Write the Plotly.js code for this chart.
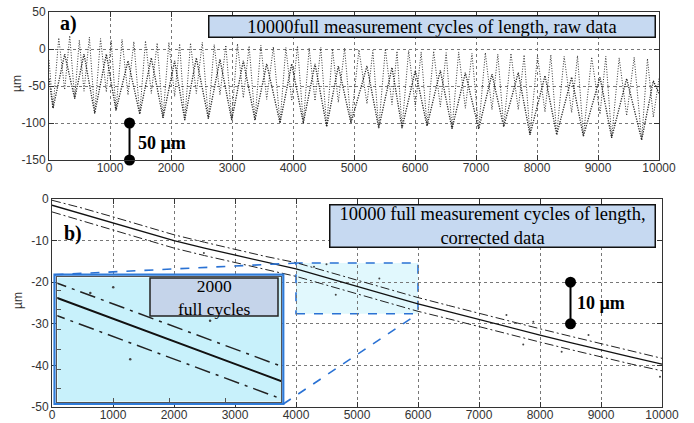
<!DOCTYPE html>
<html><head><meta charset="utf-8">
<script src="https://cdn.plot.ly/plotly-3.0.1.min.js"></script>
<style>html,body{margin:0;padding:0;background:#fff}#chart{width:694px;height:423px}</style>
</head><body><div id="chart"></div>
<script>
// ---- panel a) raw data: dense triangle wave and thin spike wave (vertices read from picture)
const rawBoldX = [0, 66, 257, 421, 574, 749, 940, 1098, 1295, 1487, 1677, 1869, 2060, 2225, 2415, 2612, 2803, 2995, 3186, 3377, 3569, 3787, 3979, 4169, 4361, 4552, 4743, 4950, 5213, 5405, 5623, 5787, 6005, 6197, 6415, 6607, 6825, 7044, 7262, 7454, 7693, 7885, 8131, 8323, 8568, 8760, 9033, 9224, 9470, 9716, 9907, 10000];
const rawBoldY = [-40, -80, -7, -67, -7, -87, -7, -83, -16, -88, -12, -93, -16, -96, -12, -94, -14, -96, -16, -96, -20, -100, -20, -100, -20, -105, -23, -100, -23, -107, -25, -107, -29, -104, -29, -108, -32, -108, -34, -105, -32, -116, -36, -116, -38, -118, -38, -120, -40, -123, -43, -60];
const rawThinX = [0, 66, 160, 257, 340, 421, 497, 574, 662, 749, 845, 940, 1020, 1098, 1197, 1295, 1391, 1487, 1582, 1677, 1773, 1869, 1965, 2060, 2142, 2225, 2320, 2415, 2513, 2612, 2708, 2803, 2899, 2995, 3090, 3186, 3281, 3377, 3473, 3569, 3678, 3787, 3883, 3979, 4074, 4169, 4265, 4361, 4456, 4552, 4648, 4743, 4846, 4950, 5081, 5213, 5309, 5405, 5514, 5623, 5705, 5787, 5896, 6005, 6101, 6197, 6306, 6415, 6511, 6607, 6716, 6825, 6934, 7044, 7153, 7262, 7358, 7454, 7573, 7693, 7789, 7885, 8008, 8131, 8227, 8323, 8445, 8568, 8664, 8760, 8896, 9033, 9128, 9224, 9347, 9470, 9593, 9716, 9811, 9907, 10000];
const rawThinY = [-15, -80, 15, -55, 18, -67, 12, -57, 16, -87, 14, -58, 12, -83, 13, -62, 10, -88, 11, -60, 8, -93, 9, -64, 7, -96, 8, -60, 9, -94, 6, -62, 5, -96, 7, -66, 4, -96, 5, -68, 3, -100, 2, -70, 4, -100, 1, -70, 2, -105, 0, -72, 1, -100, -1, -74, -2, -107, 0, -75, -3, -107, -2, -78, -4, -104, -3, -78, -5, -108, -4, -80, -6, -108, -5, -82, -7, -105, -6, -82, -8, -116, -9, -85, -8, -116, -10, -86, -9, -118, -11, -88, -10, -120, -12, -90, -11, -123, -13, -92, -40];

// ---- panel b) corrected data
const corrX     = [0, 500, 1000, 1500, 2000, 2500, 3000, 3500, 4000, 4500, 5000, 5500, 6000, 6500, 7000, 7500, 8000, 8500, 9000, 9500, 10000];
const corrMid   = [-1.5, -3.6, -5.8, -7.9, -10.0, -11.8, -13.5, -15.2, -16.8, -18.9, -21.0, -23.1, -25.2, -27.1, -29.0, -30.9, -32.7, -34.5, -36.3, -38.0, -39.7];
const corrUpper = [-0.3, -2.2, -4.3, -6.5, -8.6, -10.4, -12.1, -13.8, -15.3, -17.4, -19.5, -21.6, -23.7, -25.6, -27.5, -29.4, -31.2, -33.0, -34.8, -36.6, -38.3];
const corrLower = [-3.1, -5.3, -7.5, -9.7, -11.8, -13.6, -15.3, -17.0, -18.6, -20.7, -22.8, -24.9, -27.0, -28.8, -30.7, -32.6, -34.4, -36.2, -38.0, -39.7, -41.3];
const strayX = [2490, 4295, 4500, 4652, 5366, 7450, 7725, 7890, 8355, 8795, 9967];
const strayY = [-13.0, -16.3, -15.7, -23.0, -19.1, -27.9, -35.0, -29.5, -36.7, -32.7, -42.7];

// scale bars
const scaleAX = [1320, 1320], scaleAY = [-100, -150];
const scaleBX = [8500, 8500], scaleBY = [-20, -30];

// ticks
const xTickVals = [0, 1000, 2000, 3000, 4000, 5000, 6000, 7000, 8000, 9000, 10000];
const xTickText = ['0', '1000', '2000', '3000', '4000', '5000', '6000', '7000', '8000', '9000', '10000'];
const yaTickVals = [-150, -100, -50, 0, 50];
const yaTickText = ['-150', '-100', '-50', '0', '50'];
const ybTickVals = [-50, -40, -30, -20, -10, 0];
const ybTickText = ['-50', '-40', '-30', '-20', '-10', '0'];

const W = 694, H = 423;
const px = p => p / W, py = p => 1 - p / H;
const SANS = 'Liberation Sans, Arial, sans-serif';
const SERIF = 'Liberation Serif, Times New Roman, serif';

const axCommon = {
  showline: true, linecolor: '#333', linewidth: 1, mirror: 'ticks',
  ticks: 'inside', ticklen: 5, tickcolor: '#333', tickwidth: 1,
  showgrid: true, gridcolor: '#777', griddash: 'dot', gridwidth: 1,
  zeroline: false, automargin: false, fixedrange: true,
  tickfont: {family: SANS, size: 12, color: '#333'}
};

const xaDom = [49 / W, 659 / W], yaDom = [py(160), py(12)];
const xbDom = [52 / W, 662 / W], ybDom = [py(407), py(199)];
const xiDom = [57.3 / W, 281 / W], yiDom = [py(401.7), py(277.3)];
const xbRange = [0, 10000], ybRange = [-50, 0];
const xiRange = [4000, 6000], yiRange = [-27.3, -14.7];

const traces = [
  {x: rawThinX, y: rawThinY, xaxis: 'x', yaxis: 'y', mode: 'lines', hoverinfo: 'skip',
   line: {color: '#333', width: 1, dash: '1px,1.6px'}},
  {x: rawBoldX, y: rawBoldY, xaxis: 'x', yaxis: 'y', mode: 'lines', hoverinfo: 'skip',
   line: {color: '#222', width: 1.3, dash: '1.2px,1.3px'}},
  {x: scaleAX, y: scaleAY, xaxis: 'x', yaxis: 'y', mode: 'lines+markers', cliponaxis: false,
   line: {color: '#000', width: 2}, marker: {size: 11, color: '#000'}},

  {x: corrX, y: corrUpper, xaxis: 'x2', yaxis: 'y2', mode: 'lines',
   line: {color: '#222', width: 1, dash: '9px,3px,2px,3px'}},
  {x: corrX, y: corrLower, xaxis: 'x2', yaxis: 'y2', mode: 'lines',
   line: {color: '#222', width: 1, dash: '9px,3px,2px,3px'}},
  {x: corrX, y: corrMid, xaxis: 'x2', yaxis: 'y2', mode: 'lines',
   line: {color: '#111', width: 1.3}},
  {x: strayX, y: strayY, xaxis: 'x2', yaxis: 'y2', mode: 'markers',
   marker: {size: 2, color: '#444'}},
  {x: scaleBX, y: scaleBY, xaxis: 'x2', yaxis: 'y2', mode: 'lines+markers', cliponaxis: false,
   line: {color: '#000', width: 2}, marker: {size: 11, color: '#000'}},

  {x: corrX, y: corrUpper, xaxis: 'x3', yaxis: 'y3', mode: 'lines',
   line: {color: '#222', width: 1.5, dash: '16px,6px,3px,6px'}},
  {x: corrX, y: corrLower, xaxis: 'x3', yaxis: 'y3', mode: 'lines',
   line: {color: '#222', width: 1.5, dash: '16px,6px,3px,6px'}},
  {x: corrX, y: corrMid, xaxis: 'x3', yaxis: 'y3', mode: 'lines',
   line: {color: '#111', width: 2}},
  {x: strayX, y: strayY, xaxis: 'x3', yaxis: 'y3', mode: 'markers',
   marker: {size: 2.5, color: '#444'}}
];

// paper position of a point in panel b data coords
const bPaperX = v => xbDom[0] + (v - xbRange[0]) / (xbRange[1] - xbRange[0]) * (xbDom[1] - xbDom[0]);
const bPaperY = v => ybDom[0] + (v - ybRange[0]) / (ybRange[1] - ybRange[0]) * (ybDom[1] - ybDom[0]);
const zoomBox = {x0: 4000, x1: 6000, y0: -27.6, y1: -15.4};

const shapes = [
  {type: 'rect', xref: 'x2', yref: 'y2', x0: zoomBox.x0, x1: zoomBox.x1, y0: zoomBox.y0, y1: zoomBox.y1,
   fillcolor: '#e1f8fd', line: {color: '#2a72d4', width: 1.6, dash: 'dash'}, layer: 'below'},
  {type: 'rect', xref: 'x3', yref: 'y3', x0: xiRange[0], x1: xiRange[1], y0: yiRange[0], y1: yiRange[1],
   fillcolor: '#c8f1fb', line: {width: 0}, layer: 'below'},
  {type: 'rect', xref: 'paper', yref: 'paper', x0: px(54.5), x1: px(283.3), y0: py(404), y1: py(274.7),
   fillcolor: 'rgba(0,0,0,0)', line: {color: '#2f7bd8', width: 2.2}, layer: 'above'},
  {type: 'line', xref: 'paper', yref: 'paper', x0: px(54.5), y0: py(274.7), x1: bPaperX(zoomBox.x0), y1: bPaperY(zoomBox.y1),
   line: {color: '#2a72d4', width: 1.6, dash: 'dash'}, layer: 'above'},
  {type: 'line', xref: 'paper', yref: 'paper', x0: px(283.3), y0: py(404), x1: bPaperX(zoomBox.x1), y1: bPaperY(zoomBox.y0),
   line: {color: '#2a72d4', width: 1.6, dash: 'dash'}, layer: 'above'},
  {type: 'rect', xref: 'paper', yref: 'paper', x0: px(150), x1: px(278), y0: py(316), y1: py(278),
   fillcolor: '#c5d4ea', line: {color: '#222', width: 1.5}, layer: 'above'}
];

const annotations = [
  {xref: 'paper', yref: 'paper', x: px(208), y: py(15), xanchor: 'left', yanchor: 'top', showarrow: false,
   text: '10000full measurement cycles of length, raw data', width: 445, height: 20, borderpad: 0,
   bgcolor: '#c6d9f1', bordercolor: '#111', borderwidth: 1.5, align: 'center', valign: 'middle',
   font: {family: SERIF, size: 18.5, color: '#000'}},
  {xref: 'paper', yref: 'paper', x: px(329), y: py(204), xanchor: 'left', yanchor: 'top', showarrow: false,
   text: '10000 full measurement cycles of length,<br>corrected data', width: 324, height: 41, borderpad: 0,
   bgcolor: '#c6d9f1', bordercolor: '#111', borderwidth: 1.5, align: 'center', valign: 'middle',
   font: {family: SERIF, size: 18.5, color: '#000'}},
  {xref: 'paper', yref: 'paper', x: px(214), y: py(297), xanchor: 'center', yanchor: 'middle', showarrow: false,
   text: '2000<br>full cycles', align: 'center', font: {family: SERIF, size: 17.5, color: '#000'}},
  {xref: 'paper', yref: 'paper', x: px(58), y: py(24), xanchor: 'left', yanchor: 'middle', showarrow: false,
   text: '<b>a)</b>', font: {family: SERIF, size: 20, color: '#000'}},
  {xref: 'paper', yref: 'paper', x: px(62), y: py(233), xanchor: 'left', yanchor: 'middle', showarrow: false,
   text: '<b>b)</b>', font: {family: SERIF, size: 20, color: '#000'}},
  {xref: 'paper', yref: 'paper', x: px(136), y: py(143), xanchor: 'left', yanchor: 'middle', showarrow: false,
   text: '<b>50 µm</b>', font: {family: SERIF, size: 18, color: '#000'}},
  {xref: 'paper', yref: 'paper', x: px(575), y: py(303), xanchor: 'left', yanchor: 'middle', showarrow: false,
   text: '<b>10 µm</b>', font: {family: SERIF, size: 18, color: '#000'}},
  {xref: 'paper', yref: 'paper', x: px(17), y: py(84), xanchor: 'center', yanchor: 'middle', showarrow: false,
   text: 'µm', textangle: -90, font: {family: SANS, size: 12, color: '#333'}},
  {xref: 'paper', yref: 'paper', x: px(18), y: py(301), xanchor: 'center', yanchor: 'middle', showarrow: false,
   text: 'µm', textangle: -90, font: {family: SANS, size: 12, color: '#333'}}
];

const layout = {
  width: W, height: H, margin: {l: 0, r: 0, t: 0, b: 0},
  paper_bgcolor: '#fff', plot_bgcolor: '#fff', showlegend: false,
  xaxis: Object.assign({}, axCommon, {domain: xaDom, range: [0, 10000], anchor: 'y', tickmode: 'array', tickvals: xTickVals, ticktext: xTickText, ticklabelstandoff: -3}),
  yaxis: Object.assign({}, axCommon, {domain: yaDom, range: [-150, 50], anchor: 'x', tickmode: 'array', tickvals: yaTickVals, ticktext: yaTickText}),
  xaxis2: Object.assign({}, axCommon, {domain: xbDom, range: xbRange, anchor: 'y2', tickmode: 'array', tickvals: xTickVals, ticktext: xTickText, ticklabelstandoff: -3}),
  yaxis2: Object.assign({}, axCommon, {domain: ybDom, range: ybRange, anchor: 'x2', tickmode: 'array', tickvals: ybTickVals, ticktext: ybTickText}),
  xaxis3: {domain: xiDom, range: xiRange, anchor: 'y3', showline: true, linecolor: '#555', linewidth: 1, mirror: true,
           ticks: 'inside', ticklen: 4, tickcolor: '#555', dtick: 500, tick0: 4000, showticklabels: false,
           showgrid: false, zeroline: false, fixedrange: true},
  yaxis3: {domain: yiDom, range: yiRange, anchor: 'x3', showline: true, linecolor: '#555', linewidth: 1, mirror: true,
           ticks: 'inside', ticklen: 4, tickcolor: '#555', dtick: 2, tick0: 0, showticklabels: false,
           showgrid: false, zeroline: false, fixedrange: true},
  shapes: shapes,
  annotations: annotations
};

Plotly.newPlot('chart', traces, layout, {staticPlot: true, displayModeBar: false});
</script>
</body></html>
